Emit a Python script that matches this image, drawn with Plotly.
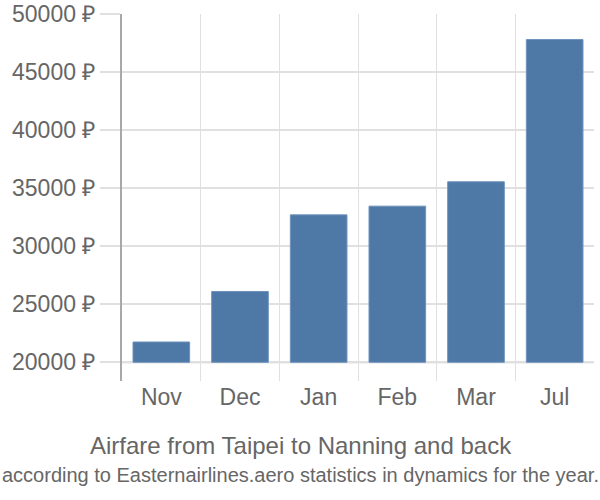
import plotly.graph_objects as go

months = ["Nov", "Dec", "Jan", "Feb", "Mar", "Jul"]
prices = [21750, 26100, 32700, 33450, 35550, 47800]
base_value = 20000
tick_values = [20000, 25000, 30000, 35000, 40000, 45000, 50000]
tick_labels = [f"{v} ₽" for v in tick_values]

fig = go.Figure()
fig.add_trace(go.Bar(
    x=months,
    y=[p - base_value for p in prices],
    base=base_value,
    marker=dict(color="#4e78a6", line=dict(color="#6f93bd", width=1)),
    width=0.72,
    hoverinfo="skip",
))

fig.add_shape(type="line", xref="paper", yref="y", x0=0, x1=1, y0=base_value, y1=base_value,
              line=dict(color="#c8c8c8", width=2), layer="below")

fig.update_layout(
    width=600, height=500,
    margin=dict(l=122, r=6, t=14, b=119, autoexpand=False),
    paper_bgcolor="white", plot_bgcolor="white",
    showlegend=False,
    font=dict(family="Liberation Sans, Arial, sans-serif", color="#666666"),
    xaxis=dict(
        tickson="boundaries", automargin=False,
        showgrid=True, gridcolor="#e0e0e0", gridwidth=1,
        ticks="", tickfont=dict(size=23, color="#666666"),
        showline=False, zeroline=False,
    ),
    yaxis=dict(
        range=[18390, 50000], automargin=False,
        tickvals=tick_values, ticktext=tick_labels,
        ticks="outside", ticklen=20, tickcolor="#e0e0e0", tickwidth=2,
        showgrid=True, gridcolor="#e0e0e0", gridwidth=2,
        tickfont=dict(size=23, color="#666666"),
        showline=True, linecolor="#a8a8a8", linewidth=2,
        zeroline=False,
    ),
    bargap=0.28,
)

fig.add_annotation(text="Airfare from Taipei to Nanning and back", xref="paper", yref="paper",
                   x=0.5, xanchor="center", y=-0.177, yanchor="middle", showarrow=False,
                   font=dict(size=24, color="#666666"), xshift=-57)
fig.add_annotation(text="according to Easternairlines.aero statistics in dynamics for the year.",
                   xref="paper", yref="paper", x=0.5, xanchor="center", y=-0.256, yanchor="middle",
                   showarrow=False, font=dict(size=20, color="#666666"), xshift=-58)

fig.write_html("out.html")
